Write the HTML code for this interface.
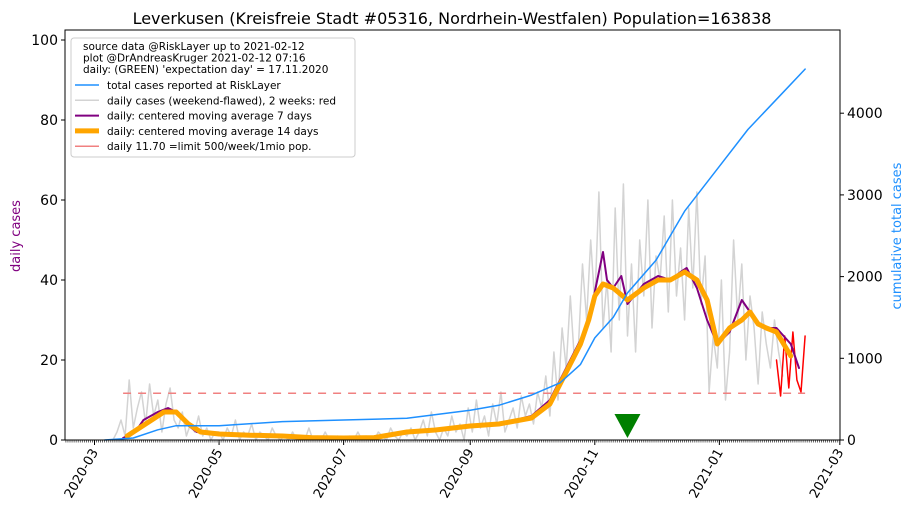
<!DOCTYPE html>
<html><head><meta charset="utf-8"><style>
body{margin:0;background:#fff}
text{font-family:"DejaVu Sans","Liberation Sans",sans-serif}
</style></head><body>
<svg id="c" width="915" height="516" xmlns="http://www.w3.org/2000/svg"></svg>
<script>
// data (day index 0 = 2020-03-01)
const cumDays=[5,19,31,40,61,92,122,153,184,198,214,228,238,245,254,261,275,289,306,320,337,348];
const cumVals=[0,25,125,175,175,225,245,265,365,425,550,700,925,1250,1500,1800,2200,2800,3350,3800,4250,4540];
const ma7Days=[14,20,24,31,36,40,45,50,61,76,92,106,122,137,153,167,184,198,214,223,233,238,242,245,249,251,254,258,261,269,276,282,287,290,295,300,305,311,317,321,325,329,334,341,345];
const ma7Vals=[0.5,2,5,7,8,7,4,2,1.5,1,1,0.5,0.5,0.5,2,2.5,3.5,4,6,10,20,25,30,37,47,40,38,41,34,39,41,40,42,43,38,30,24,27,35,32,29,28,28,24,18];
const ma14Days=[16,22,28,34,40,46,52,61,76,92,106,122,137,153,167,184,198,214,223,233,238,242,245,249,254,261,269,276,282,289,295,300,305,311,317,321,325,329,334,341];
const ma14Vals=[1,3,5,7,7,4,2,1.5,1.2,1,0.6,0.5,0.6,2,2.5,3.5,4,5.5,9,19,24,30,36,39,38,35,38,40,40,42,40,35,24,28,30,32,29,28,27,21];
const grayStart=9, grayStep=2;
const grayVals=[0,2,5,1,15,3,8,12,4,14,6,10,2,9,13,5,3,7,1,4,2,6,1,3,0,2,
2,0,3,1,5,0,2,1,4,0,2,1,0,3,1,0,
1,0,2,0,1,0,3,0,1,0,2,0,0,1,0,
0,1,0,2,0,1,0,0,2,1,0,3,1,0,2,1,
3,0,2,5,1,7,2,0,3,1,6,2,4,0,8,
2,10,3,6,1,9,4,12,2,5,8,3,11,6,9,
4,12,8,16,6,22,10,28,18,36,20,24,44,30,50,34,
62,28,40,22,58,30,64,26,44,22,50,36,60,28,46,
40,56,32,60,36,48,30,58,38,62,34,46,12,26,18,40,
10,22,50,30,44,20,36,28,14,32,24,18,30,22,16];
const redDays=[334,336,338,340,342,344,346,348];
const redVals=[20,11,26,13,27,15,12,26];
const leftTicks=[0,20,40,60,80,100];
const rightTicks=[0,1000,2000,3000,4000];
const xTickDays=[0,61,122,184,245,306,365];
const xTickLabels=["2020-03","2020-05","2020-07","2020-09","2020-11","2021-01","2021-03"];
const limitVal=11.7, expectDay=261;

const L=65,R=840,T=30,B=440;
const x=d=>94.5+d*2.042;
const yl=v=>B-v*4;
const yr=v=>B-v*0.0817;
const svg=document.getElementById('c');
const NS='http://www.w3.org/2000/svg';
function mk(t,a,p){const e=document.createElementNS(NS,t);for(const k in a)e.setAttribute(k,a[k]);(p||svg).appendChild(e);return e;}
function line(ds,vs,fy,st,name){const pts=ds.map((d,i)=>x(d).toFixed(1)+','+fy(vs[i]).toFixed(1)).join(' ');
 const e=mk('polyline',Object.assign({points:pts,fill:'none','stroke-linejoin':'round','stroke-linecap':'round'},st));
 
 }

const gd=grayVals.map((v,i)=>grayStart+i*grayStep);
line(gd,grayVals,yl,{stroke:'#d3d3d3','stroke-width':1.5},'daily-cases-line');
line(redDays,redVals,yl,{stroke:'red','stroke-width':1.5},'daily-cases-last-two-weeks');
const lim=mk('line',{x1:x(14),x2:x(348),y1:yl(limitVal),y2:yl(limitVal),stroke:'#f08080','stroke-width':1.5,'stroke-dasharray':'8,7'});


line(ma7Days,ma7Vals,yl,{stroke:'purple','stroke-width':2},'moving-average-7-line');
line(ma14Days,ma14Vals,yl,{stroke:'orange','stroke-width':5},'moving-average-14-line');
line(cumDays,cumVals,yr,{stroke:'dodgerblue','stroke-width':1.5},'cumulative-cases-line');
const ex=x(expectDay);
const tri=mk('polygon',{points:`${ex-13},414 ${ex+13},414 ${ex},438`,fill:'green'});



mk('rect',{x:L,y:T,width:R-L,height:B-T,fill:'none',stroke:'#000','stroke-width':1});
leftTicks.forEach(v=>{mk('line',{x1:L-4,x2:L,y1:yl(v),y2:yl(v),stroke:'#000'});
 const t=mk('text',{x:L-7,y:yl(v)+5,'text-anchor':'end','font-size':14});t.textContent=v;
 });
rightTicks.forEach(v=>{mk('line',{x1:R,x2:R+4,y1:yr(v),y2:yr(v),stroke:'#000'});
 const t=mk('text',{x:R+7,y:yr(v)+5,'font-size':14});t.textContent=v;
 });
for(let d=-14;d<=365;d++){mk('line',{x1:x(d),x2:x(d),y1:B,y2:B+2.5,stroke:'#000','stroke-width':0.6});}
xTickDays.forEach((d,i)=>{mk('line',{x1:x(d),x2:x(d),y1:B,y2:B+5,stroke:'#000'});
 const t=mk('text',{x:x(d)+4,y:B+12,'text-anchor':'end','font-size':13,transform:`rotate(-60 ${x(d)+4} ${B+12})`});
 t.textContent=xTickLabels[i];});
let t=mk('text',{x:452,y:24,'text-anchor':'middle','font-size':16});t.textContent='Leverkusen (Kreisfreie Stadt #05316, Nordrhein-Westfalen) Population=163838';
t=mk('text',{x:20,y:236,'text-anchor':'middle','font-size':13,fill:'purple',transform:'rotate(-90 20 236)'});t.textContent='daily cases';
t=mk('text',{x:901,y:236,'text-anchor':'middle','font-size':13,fill:'dodgerblue',transform:'rotate(-90 901 236)'});t.textContent='cumulative total cases';
const g=mk('g',{});
mk('rect',{x:71,y:38,width:284,height:119,fill:'#fff','fill-opacity':0.85,stroke:'#ccc',rx:3},g);
['source data @RiskLayer up to 2021-02-12','plot @DrAndreasKruger 2021-02-12 07:16',"daily: (GREEN) 'expectation day' = 17.11.2020"].forEach((s,i)=>{
 const e=mk('text',{x:83,y:50+i*11.5,'font-size':10.5},g);e.textContent=s;});
const items=[['dodgerblue',1.5,'total cases reported at RiskLayer',0],['#d3d3d3',1.5,'daily cases (weekend-flawed), 2 weeks: red',0],['purple',2,'daily: centered moving average 7 days',0],['orange',5,'daily: centered moving average 14 days',0],['#f08080',1.5,'daily 11.70 =limit 500/week/1mio pop.',1]];
items.forEach((it,i)=>{const yy=85+i*15.3;
 mk('line',{x1:it[4]?76:75,x2:it[4]?86:99,y1:yy,y2:yy,stroke:it[0],'stroke-width':it[1]},g);
 const e=mk('text',{x:107,y:yy+4,'font-size':10.5},g);e.textContent=it[2];});
</script>
</body></html>
